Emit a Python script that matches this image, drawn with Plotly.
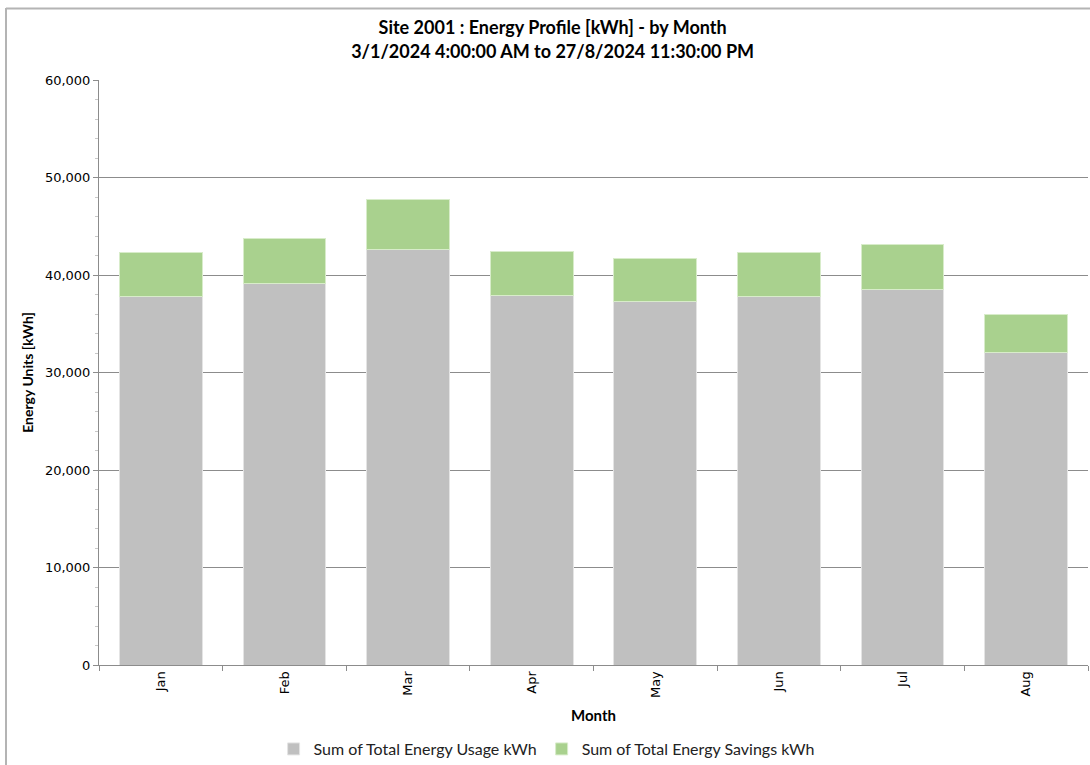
import plotly.graph_objects as go

months = ["Jan", "Feb", "Mar", "Apr", "May", "Jun", "Jul", "Aug"]
usage = [37770, 39110, 42630, 37880, 37300, 37780, 38500, 32070]
totals = [42330, 43760, 47790, 42460, 41710, 42320, 43140, 35930]
savings = [t - u for t, u in zip(totals, usage)]

L, R, T, B = 99, 1088, 80, 665
W, H = 1090, 765

def px(x):
    return (x - L) / (R - L)

def py(y):
    return (B - y) / (B - T)

fig = go.Figure()
fig.add_trace(go.Bar(x=months, y=usage, name="Sum of Total Energy Usage kWh",
                     marker=dict(color="#c0c0c0", line=dict(color="#e4e4e4", width=1))))
fig.add_trace(go.Bar(x=months, y=savings, name="Sum of Total Energy Savings kWh",
                     marker=dict(color="#a9d18e", line=dict(color="#d8ecca", width=1))))

fig.update_layout(
    barmode="stack",
    bargap=0.33,
    width=W, height=H,
    margin=dict(l=L, r=W - R, t=T, b=H - B, autoexpand=False),
    paper_bgcolor="white", plot_bgcolor="white",
    title=dict(text="<b>Site 2001 : Energy Profile [kWh] - by Month<br>3/1/2024 4:00:00 AM to 27/8/2024 11:30:00 PM</b>",
               x=0.507, xanchor="center", y=0.955, yanchor="middle",
               font=dict(family="Lato, Open Sans, sans-serif", size=18, color="#000")),
    showlegend=True,
    legend=dict(orientation="h", x=px(546.6), xanchor="center", y=py(749), yanchor="middle",
                bgcolor="rgba(0,0,0,0)",
                font=dict(family="Lato, sans-serif", size=16, color="#222"),
                traceorder="normal"),
    shapes=[
        dict(type="line", xref="paper", yref="paper",
             x0=px(6), x1=px(1090), y0=py(8.5), y1=py(8.5),
             line=dict(color="#b4b4b4", width=2), layer="below"),
        dict(type="line", xref="paper", yref="paper",
             x0=px(6), x1=px(6), y0=py(8), y1=py(765),
             line=dict(color="#b4b4b4", width=2), layer="below"),
    ],
)
fig.update_yaxes(range=[0, 60000], dtick=10000, tickformat=",", automargin=False,
                 showgrid=True, gridcolor="#8c8c8c", gridwidth=1,
                 showline=True, linecolor="#8c8c8c",
                 ticks="outside", ticklen=5, tickcolor="#8c8c8c",
                 minor=dict(dtick=2000, ticks="outside", ticklen=3, tickcolor="#c8c8c8", showgrid=False),
                 tickfont=dict(family="DejaVu Sans, Verdana, sans-serif", size=13, color="#000"),
                 title=dict(text="<b>Energy Units [kWh]</b>", standoff=8,
                            font=dict(family="Lato, sans-serif", size=14, color="#000")),
                 zeroline=False)
fig.update_xaxes(showline=True, linecolor="#8c8c8c", automargin=False,
                 ticks="outside", ticklen=5, tickcolor="#8c8c8c", tickson="boundaries",
                 tickangle=-90,
                 tickfont=dict(family="DejaVu Sans, Verdana, sans-serif", size=13, color="#000"),
                 title=dict(text="<b>Month</b>", standoff=13,
                            font=dict(family="Lato, sans-serif", size=15, color="#000")))

fig.write_html("out.html", post_script="document.body.style.margin='0';",
               config={"displayModeBar": False})
